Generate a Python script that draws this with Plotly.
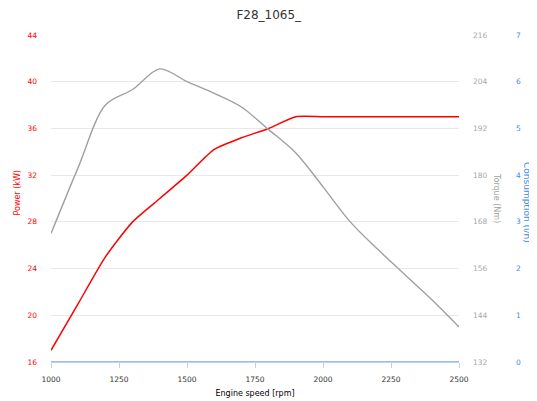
import plotly.graph_objects as go

rpm = [1000, 1100, 1200, 1300, 1400, 1500, 1600, 1700, 1800, 1900, 2000, 2100, 2200, 2300, 2400, 2500]
power_kw = [17, 21, 25, 28, 30, 32, 34.2, 35.2, 36, 37, 37, 37, 37, 37, 37, 37]
torque_nm = [165, 182, 198, 202, 207.3, 204, 201, 197.5, 191.7, 185.7, 177, 168, 161, 154.5, 148, 141]
consumption_lh = [0, 0, 0, 0, 0, 0, 0, 0, 0, 0, 0, 0, 0, 0, 0, 0]

x_ticks = [1000, 1250, 1500, 1750, 2000, 2250, 2500]

FONT = "DejaVu Sans"
OFF = 8  # page body margin of the browser
W, H = 537 - OFF, 401 - OFF
ML, MR, MT, MB = 42.5, 10, 27, 39
PW = W - ML - MR
PH = H - MT - MB


def px_x(px):
    return (px - OFF - ML) / PW


def px_y(py):
    return (H - MB - (py - OFF)) / PH


fig = go.Figure()
fig.add_trace(go.Scatter(
    x=rpm, y=consumption_lh, yaxis="y3", mode="lines",
    line=dict(color="#7AA6E8", width=1.6), hoverinfo="skip", showlegend=False))
fig.add_trace(go.Scatter(
    x=rpm, y=torque_nm, yaxis="y2", mode="lines",
    line=dict(color="#A0A0A0", width=1.4, shape="spline", smoothing=0.9),
    showlegend=False))
fig.add_trace(go.Scatter(
    x=rpm, y=power_kw, yaxis="y", mode="lines",
    line=dict(color="#FF0000", width=1.5, shape="spline", smoothing=0.6),
    showlegend=False))

fig.update_layout(
    width=W, height=H,
    margin=dict(l=ML, r=MR, t=MT, b=MB, autoexpand=False),
    paper_bgcolor="white", plot_bgcolor="white",
    font=dict(family=FONT, size=8, color="#333333"),
    title=dict(text="F28_1065_", x=px_x(268.5), xanchor="center", y=1 - (15 - OFF) / H,
               yanchor="middle", xref="paper",
               font=dict(family=FONT, size=12, color="#333333")),
    xaxis=dict(
        domain=[0, px_x(459)], range=[1000, 2500], tickvals=x_ticks,
        showline=True, linecolor="#C0D0E0", linewidth=1,
        ticks="outside", ticklen=5, tickcolor="#C0D0E0",
        showgrid=False, zeroline=False, automargin=False,
        ticklabelstandoff=5,
        tickfont=dict(family=FONT, size=7.5, color="#333333"),
        title=dict(text="Engine speed [rpm]", standoff=7,
                   font=dict(family=FONT, size=8, color="#000000")),
    ),
    yaxis=dict(
        range=[16, 44], tick0=16, dtick=4, automargin=False,
        showgrid=True, gridcolor="#E8E8E8", zeroline=False, showline=False,
        ticks="", ticklabelstandoff=13,
        tickfont=dict(family=FONT, size=7.5, color="#FF0000"),
    ),
    yaxis2=dict(
        overlaying="y", anchor="x", side="right", automargin=False,
        range=[132, 216], tick0=132, dtick=12,
        showgrid=False, zeroline=False, showline=False,
        ticks="", ticklabelstandoff=13,
        tickfont=dict(family=FONT, size=7.5, color="#A8A8A8"),
    ),
    yaxis3=dict(
        overlaying="y", anchor="free", side="right", position=px_x(513), automargin=False,
        range=[0, 7], tick0=0, dtick=1,
        showgrid=False, zeroline=False, showline=False,
        ticks="", ticklabelstandoff=2,
        tickfont=dict(family=FONT, size=7.5, color="#3D8FE6"),
    ),
    annotations=[
        dict(text="Power (kW)", xref="paper", yref="paper", x=px_x(17), y=px_y(193),
             xanchor="center", yanchor="middle", textangle=-90, showarrow=False,
             font=dict(family=FONT, size=8, color="#FF0000")),
        dict(text="Torque (Nm)", xref="paper", yref="paper", x=px_x(497), y=px_y(198),
             xanchor="center", yanchor="middle", textangle=90, showarrow=False,
             font=dict(family=FONT, size=8, color="#A0A0A0")),
        dict(text="Consumption (l/h)", xref="paper", yref="paper", x=px_x(527), y=px_y(202),
             xanchor="center", yanchor="middle", textangle=90, showarrow=False,
             font=dict(family=FONT, size=9, color="#3D8FE6")),
    ],
)

fig.write_html("out.html")
